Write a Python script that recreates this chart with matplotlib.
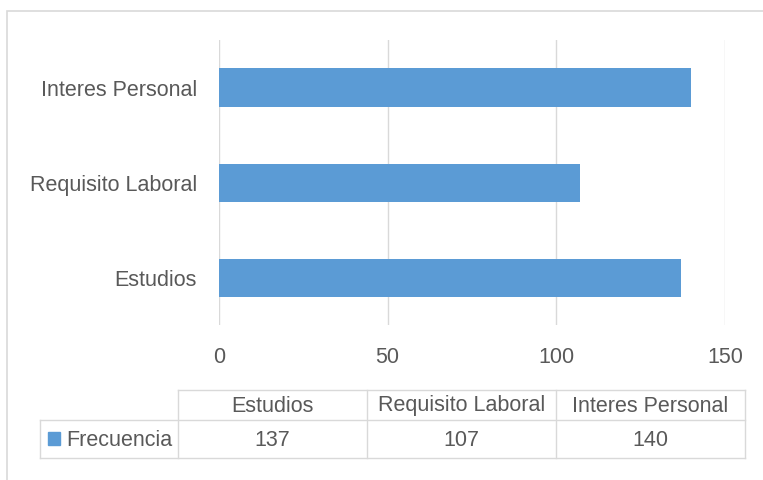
import matplotlib
matplotlib.use('Agg')
import matplotlib.pyplot as plt
from matplotlib.patches import Rectangle
from matplotlib.lines import Line2D

categorias = ['Estudios', 'Requisito Laboral', 'Interes Personal']
frecuencia = [137, 107, 140]
serie = 'Frecuencia'
x_ticks = [0, 50, 100, 150]

azul = '#5B9BD5'
gris_txt = '#595959'
gris_lin = '#D9D9D9'
fs = 15.5

plt.rcParams['font.family'] = ['Liberation Sans', 'DejaVu Sans']

W, H = 763, 481
fig = plt.figure(figsize=(W / 100, H / 100), dpi=100)


def fx(px):
    return px / W


def fy(py):
    return 1 - py / H


# marco del grafico (solo se ven borde izq y sup)
fig.patches.append(Rectangle((fx(7), fy(530)), fx(900), fy(12) - fy(530),
                             transform=fig.transFigure, fill=False,
                             edgecolor=gris_lin, lw=1.2))

ax = fig.add_axes([fx(219), fy(326), fx(725) - fx(219), fy(41) - fy(326)])
ax.barh(range(len(categorias)), frecuencia, height=0.4, color=azul)
ax.set_ylim(-0.5, len(categorias) - 0.5)
ax.set_xlim(0, 150)
ax.set_xticks(x_ticks)
ax.set_yticks(range(len(categorias)))
ax.set_yticklabels(categorias)
ax.grid(axis='x', color=gris_lin, lw=1)
ax.set_axisbelow(True)
for s in ax.spines.values():
    s.set_visible(False)
ax.tick_params(axis='both', length=0, labelsize=fs, colors=gris_txt)
ax.tick_params(axis='x', pad=15)
ax.tick_params(axis='y', pad=16)

# tabla de datos
col_x = [178, 367, 556, 745]
row_y = [391, 421, 459]
leg_x = 40
lines = []
lines.append(([col_x[0], col_x[-1]], [row_y[0], row_y[0]]))
lines.append(([leg_x, col_x[-1]], [row_y[1], row_y[1]]))
lines.append(([leg_x, col_x[-1]], [row_y[2], row_y[2]]))
lines.append(([leg_x, leg_x], [row_y[1], row_y[2]]))
for x in col_x:
    lines.append(([x, x], [row_y[0], row_y[2]]))
for xs, ys in lines:
    fig.add_artist(Line2D([fx(v) for v in xs], [fy(v) for v in ys],
                          transform=fig.transFigure, color=gris_lin, lw=1))

for i, (cat, val) in enumerate(zip(categorias, frecuencia)):
    cx = (col_x[i] + col_x[i + 1]) / 2
    fig.text(fx(cx), fy((row_y[0] + row_y[1]) / 2), cat, ha='center', va='center',
             fontsize=fs, color=gris_txt)
    fig.text(fx(cx), fy((row_y[1] + row_y[2]) / 2), str(val), ha='center', va='center',
             fontsize=fs, color=gris_txt)

fig.patches.append(Rectangle((fx(48), fy(446)), fx(12), fy(433) - fy(446),
                             transform=fig.transFigure, color=azul))
fig.text(fx(66), fy((row_y[1] + row_y[2]) / 2), serie, ha='left', va='center',
         fontsize=fs, color=gris_txt)

fig.savefig('out.png', dpi=100)
